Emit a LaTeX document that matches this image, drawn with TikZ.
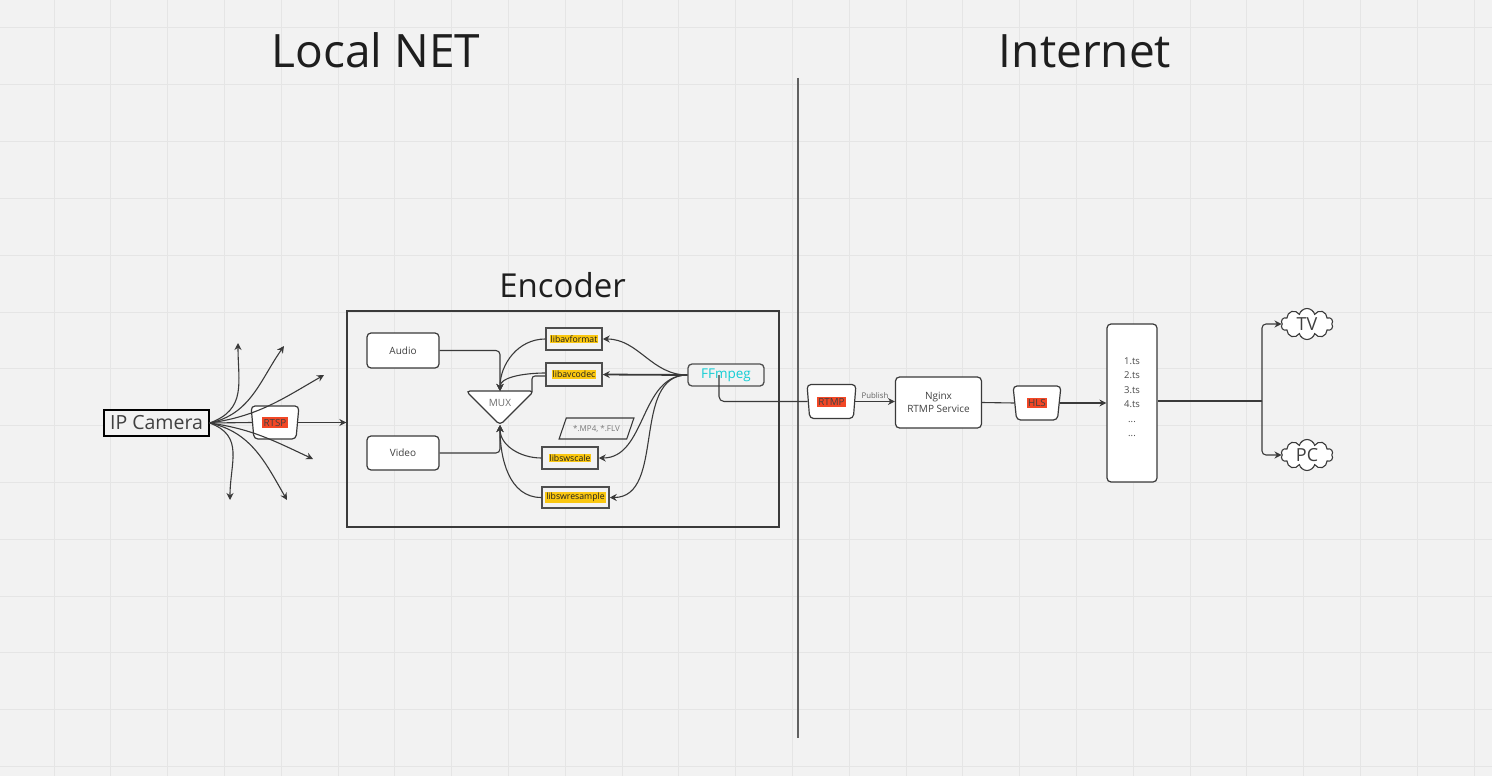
\documentclass[tikz,border=0pt]{standalone}
\usepackage{fontspec}
\setmainfont{Open Sans}
\usetikzlibrary{shapes.geometric,shapes.symbols,arrows.meta,calc}
\definecolor{bg}{HTML}{F2F2F2}
\definecolor{gridc}{HTML}{E5E5E5}
\definecolor{ln}{HTML}{3A3A3A}
\definecolor{txt}{HTML}{1E1E1E}
\definecolor{redl}{HTML}{F24726}
\definecolor{yell}{HTML}{FAC710}
\definecolor{cyanl}{HTML}{12CDD4}
\newcommand\fsz[1]{\fontsize{#1}{#1}\selectfont}
\newcommand\hlred[1]{{\setlength{\fboxsep}{1.5pt}\colorbox{redl}{#1}}}
\newcommand\hlyel[1]{{\setlength{\fboxsep}{1pt}\colorbox{yell}{#1}}}
\tikzset{
  title/.style={text=txt, font=\fsz{46}, anchor=base, inner sep=0},
  line/.style={draw=ln, line width=1.1pt},
  arr/.style={line, -{Stealth[length=7pt,width=7pt]}},
  rbox/.style={draw=ln, line width=1.2pt, fill=white, rounded corners=4pt, inner sep=0, text=txt!85},
  libbox/.style={draw=ln!90, line width=1.5pt, fill=bg, inner sep=0, font=\fsz{8.7}, text=txt},
  trap/.style={trapezium, shape border rotate=180, trapezium left angle=80, trapezium right angle=80,
    trapezium stretches=true, draw=ln, line width=1.2pt, fill=white, rounded corners=4pt, inner sep=0,
    font=\fsz{9.8}, text=txt!85},
  cl/.style={cloud, cloud puffs=10, aspect=1.7, draw=ln, line width=1.1pt, fill=white, inner sep=0,
    minimum width=52pt, minimum height=31pt, font=\fsz{18}, text=txt!85},
}
\begin{document}
\begin{tikzpicture}[x=1pt,y=-1pt]
\useasboundingbox (0,0) rectangle (1492,776);
\fill[bg] (0,0) rectangle (1492,776);
\foreach \i in {0,...,25} \draw[gridc, line width=1pt] ({54+56.8*\i},0) -- ({54+56.8*\i},776);
\foreach \j in {0,...,13} \draw[gridc, line width=1pt] (0,{28+56.8*\j}) -- (1492,{28+56.8*\j});

% titles
\node[title] (local) at (376,67) {Local NET};
\node[title] (inet) at (1085,67) {Internet};
\node[title, font=\fsz{33}] (enctitle) at (562.5,297) {Encoder};

% divider
\coordinate (divtop) at (798,78);
\coordinate (divbot) at (798,738);
\draw[draw=ln!80, line width=2pt] (divtop) -- (divbot);

% IP camera and fan
\node[draw=black, line width=1.3pt, fill=bg, minimum width=105pt, minimum height=26pt, inner sep=0,
  font=\fsz{19.5}, text=txt!85] (cam) at (156.5,423) {IP Camera};
\node[trap, minimum width=48pt, minimum height=33pt] (rtsp) at (275,422.5) {\hlred{RTSP}};
\coordinate (f1) at (238,343);
\coordinate (f2) at (284,346);
\coordinate (f3) at (324,375);
\coordinate (f5) at (313,459);
\coordinate (f6) at (287,500);
\coordinate (f7) at (230,500);
\draw[arr] (cam.east) to[out=20,in=-90,looseness=1.2] (f1);
\draw[arr] (cam.east) to[out=12,in=-125] (f2);
\draw[arr] (cam.east) to[out=8,in=-150] (f3);
\draw[arr] (cam.east) to[out=-8,in=155] (f5);
\draw[arr] (cam.east) to[out=-12,in=120] (f6);
\draw[arr] (cam.east) to[out=-20,in=90,looseness=1.2] (f7);
\draw[line] (cam.east) -- (rtsp.west);

% encoder
\node[draw=ln, line width=1.4pt, minimum width=432pt, minimum height=216pt, inner sep=0] (enc) at (563,419) {};
\draw[arr] (rtsp.east) -- (rtsp.east -| enc.west);

\node[rbox, minimum width=72pt, minimum height=35pt, font=\fsz{10}] (audio) at (403,350.5) {Audio};
\node[rbox, minimum width=72pt, minimum height=34pt, font=\fsz{10}] (video) at (403,453) {Video};

\coordinate (muxtop) at (500,391);
\coordinate (muxbot) at (500,425);
\coordinate (muxtr) at (532,391);
\draw[draw=ln, line width=1.2pt, fill=white, rounded corners=4pt] (466,391) -- (534,391) -- (500,425) -- cycle;
\node[inner sep=0, font=\fsz{10}, text=txt!65] (mux) at (500,403) {MUX};

\node[libbox, minimum width=56pt, minimum height=22pt] (avformat) at (574,339) {\hlyel{libavformat}};
\node[libbox, minimum width=56pt, minimum height=23pt] (avcodec) at (574,374.5) {\hlyel{libavcodec}};
\node[libbox, minimum width=56pt, minimum height=22pt] (swscale) at (570,458) {\hlyel{libswscale}};
\node[libbox, minimum width=67pt, minimum height=21pt] (swres) at (575.5,497.5) {\hlyel{libswresample}};

\node[trapezium, trapezium left angle=52, trapezium right angle=128, trapezium stretches=true,
  draw=ln, line width=1.1pt, minimum width=75pt, minimum height=21pt, inner sep=0,
  font=\fsz{8}, text=txt!60] (files) at (596.5,428.5) {*.MP4, *.FLV};

\node[draw=ln!90, line width=1.3pt, fill=bg, rounded corners=4pt, minimum width=76pt, minimum height=22pt,
  inner sep=0, font=\fsz{13.5}, text=cyanl] (ffmpeg) at (726,375) {FFmpeg};

\draw[arr, rounded corners=4pt] (audio.east) -| (muxtop);
\draw[arr, rounded corners=4pt] (video.east) -| (muxbot);
\draw[arr] (avformat.west) to[out=180,in=90] (muxtop);
\draw[arr] ($(avcodec.west)+(0,-1.5)$) to[out=180,in=90,looseness=0.8] (muxtop);
\draw[line, rounded corners=3pt] ($(avcodec.west)+(0,1.5)$) -| (muxtr);
\draw[arr] (swscale.west) to[out=180,in=-90] (muxbot);
\draw[arr] (swres.west) to[out=180,in=-90] (muxbot);

\draw[arr] (ffmpeg.west) to[out=180,in=0] (avformat.east);
\draw[arr, line width=1.8pt] (ffmpeg.west) -- (avcodec.east);
\draw[arr] (ffmpeg.west) to[out=180,in=0] (swscale.east);
\draw[arr] (ffmpeg.west) to[out=180,in=0] (swres.east);

% internet side
\node[trap, minimum width=49pt, minimum height=34pt] (rtmp) at (831.5,401.5) {\hlred{RTMP}};
\node[rbox, minimum width=86pt, minimum height=51pt, font=\fsz{10}, align=center] (nginx) at (938.5,402.5) {Nginx\\[3pt]RTMP Service};
\node[trap, minimum width=48pt, minimum height=34pt] (hls) at (1037,403) {\hlred{HLS}};
\node[rbox, minimum width=50pt, minimum height=158pt] (ts) at (1132,403) {};
\node[inner sep=0, align=center, font=\fontsize{9.5}{14.5}\selectfont, text=txt!80] (tslist) at (1132,397) {1.ts\\2.ts\\3.ts\\4.ts\\...\\...};
\node[cl] (tv) at (1307,324) {TV};
\node[cl] (pc) at (1307,455) {PC};

\draw[line, rounded corners=5pt] ($(ffmpeg.center)+(-7,0)$) |- (rtmp.west);
\draw[arr] (rtmp.east) -- node[above, inner sep=2pt, font=\fsz{7.8}, text=txt!70] {Publish} (rtmp.east -| nginx.west);
\draw[line] (nginx.east) -- (hls.west);
\draw[arr] (hls.east) -- (hls.east -| ts.west);
\coordinate (split) at (1262,401);
\draw[line] (ts.east |- split) -- (split);
\draw[arr, rounded corners=4pt] (split) |- (tv.west);
\draw[arr, rounded corners=4pt] (split) |- (pc.west);
\end{tikzpicture}
\end{document}
